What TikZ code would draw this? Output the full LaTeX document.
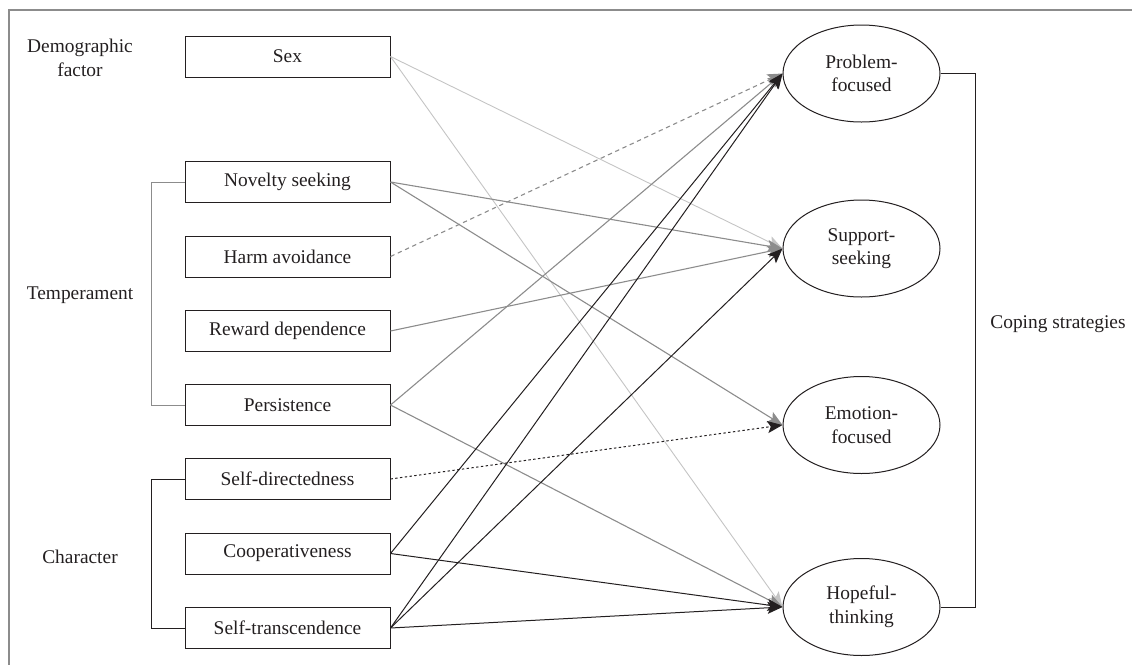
\documentclass[tikz,border=0pt]{standalone}
\usepackage{fontspec}
\setmainfont{Liberation Serif}
\usetikzlibrary{shapes.geometric,arrows.meta,positioning}
\definecolor{inkblack}{RGB}{35,31,32}
\definecolor{midgray}{RGB}{140,140,140}
\definecolor{palegray}{RGB}{196,196,196}

\begin{document}
\begin{tikzpicture}[x=0.5pt,y=-0.5pt,font=\fontsize{9.7}{11.8}\selectfont,text=inkblack,
  trait/.style={draw=inkblack,line width=0.5pt,minimum width=102.5pt,minimum height=20.5pt,inner sep=0pt},
  coping/.style={ellipse,draw=inkblack,line width=0.5pt,minimum width=78.5pt,minimum height=48.5pt,inner sep=0pt,align=center},
  sexarr/.style={->,palegray,line width=0.45pt},
  temparr/.style={->,midgray,line width=0.55pt},
  chararr/.style={->,inkblack,line width=0.5pt},
  >={Stealth[length=7.5pt,width=6pt,inset=1.6pt]}]
\useasboundingbox (0,0) rectangle (1132,665);
% frame (only top and left edges show)
\draw[midgray,line width=0.6pt] (9,665) -- (9,10) -- (1132,10);
% predictors
\node[trait] (sex) at (287.5,56.5){Sex};
\node[trait] (nov) at (287.5,182){Novelty seeking};
\node[trait] (harm) at (287.5,256.5){Harm avoidance};
\node[trait] (rew) at (287.5,331){Reward dependence};
\node[trait] (pers) at (287.5,405){Persistence};
\node[trait] (sdir) at (287.5,479){Self-directedness};
\node[trait] (coop) at (287.5,553.5){Cooperativeness};
\node[trait] (strn) at (287.5,628){Self-transcendence};
% group labels and brackets
\node[align=center] (demo) at (80,58){Demographic\\factor};
\node (temp) at (80,295){Temperament};
\node (char) at (80,557){Character};
\draw[midgray,line width=0.5pt] (nov.west) -- ++(-33,0) |- (pers.west);
\draw[inkblack,line width=0.5pt] (sdir.west) -- ++(-33,0) |- (strn.west);
% coping strategies
\node[coping] (prob) at (861.5,73.5){Problem-\\focused};
\node[coping] (sup) at (861.5,248.5){Support-\\seeking};
\node[coping] (emo) at (861.5,425){Emotion-\\focused};
\node[coping] (hope) at (861.5,607){Hopeful-\\thinking};
\draw[inkblack,line width=0.5pt] (prob.east) -- ++(35,0) |- (hope.east);
\node (cop) at (1058,324){Coping strategies};
% paths: sex
\draw[sexarr] (sex.east) -- (sup.west);
\draw[sexarr] (sex.east) -- (hope.west);
% paths: temperament
\draw[temparr] (nov.east) -- (sup.west);
\draw[temparr] (nov.east) -- (emo.west);
\draw[temparr,dash pattern=on 2.2pt off 1.8pt] (harm.east) -- (prob.west);
\draw[temparr] (rew.east) -- (sup.west);
\draw[temparr] (pers.east) -- (prob.west);
\draw[temparr] (pers.east) -- (hope.west);
% paths: character
\draw[chararr,dash pattern=on 1.2pt off 1.2pt] (sdir.east) -- (emo.west);
\draw[chararr] (coop.east) -- (prob.west);
\draw[chararr] (coop.east) -- (hope.west);
\draw[chararr] (strn.east) -- (prob.west);
\draw[chararr] (strn.east) -- (sup.west);
\draw[chararr] (strn.east) -- (hope.west);
\end{tikzpicture}
\end{document}
